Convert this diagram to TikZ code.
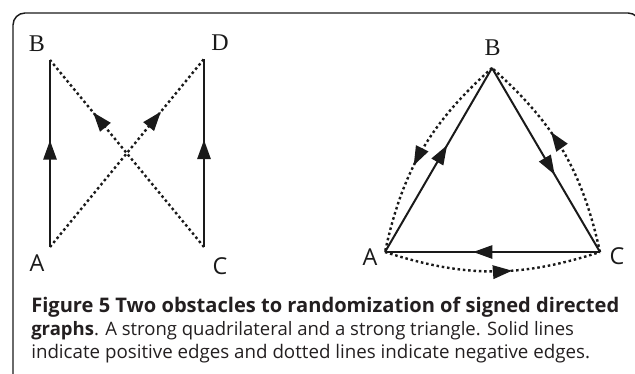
\documentclass[tikz,border=0pt]{standalone}
\usepackage{fontspec}
\usepackage{graphicx}
\setmainfont{Open Sans}
\newfontfamily\labserif{Liberation Serif}
\newfontfamily\labsans{Open Sans}
\usetikzlibrary{arrows.meta,decorations.markings}
\definecolor{ink}{HTML}{1A1A1A}
\definecolor{captxt}{HTML}{231F20}
\tikzset{
  x=0.75pt,y=-0.75pt,
  edgepos/.style={draw=ink,line width=1.5pt},
  edgeneg/.style={draw=ink,line width=1.8pt,dash pattern=on 1.9pt off 2.1pt},
  tipat/.style={postaction={decorate},decoration={markings,
     mark=at position #1 with {\arrow{Triangle[length=14.5pt,width=10pt]}}}},
  serlab/.style={font=\labserif\fontsize{18}{18}\selectfont,text=ink,inner sep=0pt},
  sanlab/.style={font=\labsans\fontsize{17.5}{18}\selectfont,text=ink,inner sep=0pt},
  capline/.style={anchor=base west,inner sep=0pt,text=captxt,font=\fontsize{14}{16}\selectfont},
}
\newcommand{\capbf}[1]{{\bfseries #1}}
\begin{document}
\begin{tikzpicture}
\useasboundingbox (0,0) rectangle (635,374);
\begin{scope}
\clip (0,0) rectangle (635,374);
\draw[ink,line width=1.1pt,rounded corners=9pt] (13,380) -- (13,13) -- (640,13) -- (640,120);
\end{scope}
% left graph
\coordinate (lA) at (50,247);
\coordinate (lB) at (50,60);
\coordinate (lC) at (204,247);
\coordinate (lD) at (204,59);
\node[serlab] (tlB) at (37,44) {B};
\node[serlab] (tlD) at (220,43) {D};
\node[sanlab] (tlA) at (37,263) {A};
\node[sanlab] (tlC) at (220,266) {C};
\path[edgepos,tipat=0.57] (lA) -- (lB);
\path[edgepos,tipat=0.57] (lC) -- (lD);
\path[edgeneg,tipat=0.72] (lC) -- (lB);
\path[edgeneg,tipat=0.72] (lA) -- (lD);
% right graph
\coordinate (rA) at (385,252);
\coordinate (rB) at (492,68);
\coordinate (rC) at (600,252);
\node[serlab] (trB) at (492.5,48) {B};
\node[sanlab] (trA) at (370,257) {A};
\node[sanlab] (trC) at (617,256) {C};
\path[edgepos,tipat=0.58] (rA) -- (rB);
\path[edgepos,tipat=0.58] (rB) -- (rC);
\path[edgepos,tipat=0.59] (rC) -- (rA);
\path[edgeneg,tipat=0.58] (rB) to[bend right=18] (rA);
\path[edgeneg,tipat=0.59] (rA) to[bend right=18] (rC);
\path[edgeneg,tipat=0.60] (rC) to[bend right=18] (rB);
% caption
\node[capline] (cap1) at (31,312.5)
  {\resizebox{441pt}{!}{\capbf{Figure 5 Two obstacles to randomization of signed directed}}};
\node[capline] (cap2) at (31,335.5)
  {\resizebox{407pt}{!}{\capbf{graphs}. A strong quadrilateral and a strong triangle. Solid lines}};
\node[capline] (cap3) at (31,358)
  {\resizebox{419pt}{!}{indicate positive edges and dotted lines indicate negative edges.}};
\end{tikzpicture}
\end{document}
